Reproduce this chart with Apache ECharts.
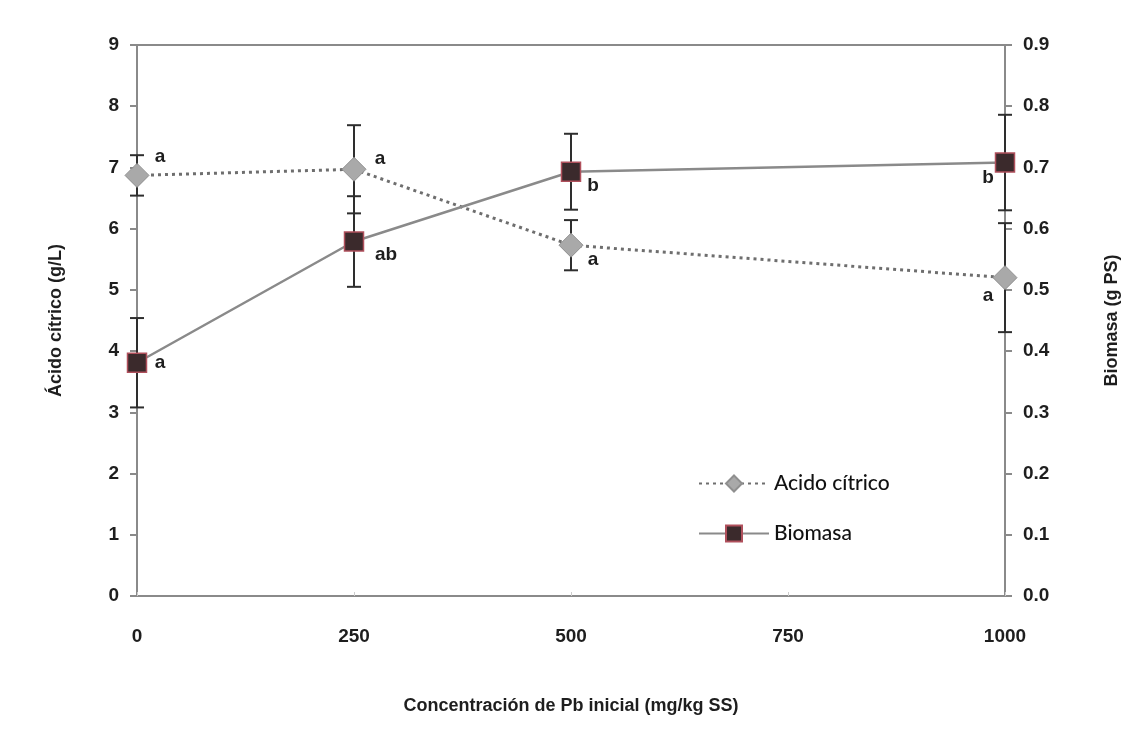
<!DOCTYPE html>
<html>
<head>
<meta charset="utf-8">
<script src="https://cdn.jsdelivr.net/npm/echarts@6/dist/echarts.min.js"></script>
<style>
  html, body { margin: 0; padding: 0; background: #fff; }
  #chart { width: 1132px; height: 742px; }
</style>
</head>
<body>
<div id="chart"></div>
<script>
// Pb initial concentration (mg/kg SS)
const pbConc = [0, 250, 500, 1000]
const xTicks = [0, 250, 500, 750, 1000]

const acidValues = [6.87, 6.97, 5.73, 5.20]
const acidErr = [0.33, 0.72, 0.41, 0.89]
const acidLetters = ['a', 'a', 'a', 'a']

const bioValues = [0.381, 0.579, 0.693, 0.708]
const bioErr = [0.073, 0.074, 0.062, 0.078]
const bioLetters = ['a', 'ab', 'b', 'b']

// where each letter sits relative to its point (px)
const acidLabelOffsets = [[23, -19], [26, -11], [22, 15], [-17, 18]]
const bioLabelOffsets = [[23, 0], [32, 13], [22, 14], [-17, 15]]

const axisColor = '#8a8a8a'
const textColor = '#1e1e1e'
const bold = { color: textColor, fontFamily: 'Liberation Sans, Arial', fontWeight: 'bold', fontSize: 19 }

function points(values, letters, offsets) {
  return pbConc.map((x, i) => ({
    value: [x, values[i]],
    label: {
      show: true,
      formatter: letters[i],
      position: 'inside',
      offset: offsets[i],
      ...bold,
      fontSize: 19
    }
  }))
}

function errorSeries(values, err, yAxisIndex) {
  return {
    type: 'custom',
    yAxisIndex,
    z: 1,
    silent: true,
    data: pbConc.map((x, i) => [x, values[i] - err[i], values[i] + err[i]]),
    renderItem(params, api) {
      const lo = api.coord([api.value(0), api.value(1)])
      const hi = api.coord([api.value(0), api.value(2)])
      const w = 7
      const style = { stroke: '#2e2e2e', lineWidth: 2 }
      return {
        type: 'group',
        children: [
          { type: 'line', shape: { x1: lo[0], y1: lo[1], x2: hi[0], y2: hi[1] }, style },
          { type: 'line', shape: { x1: lo[0] - w, y1: lo[1], x2: lo[0] + w, y2: lo[1] }, style },
          { type: 'line', shape: { x1: hi[0] - w, y1: hi[1], x2: hi[0] + w, y2: hi[1] }, style }
        ]
      }
    }
  }
}

const chart = echarts.init(document.getElementById('chart'))
chart.setOption({
  animation: false,
  grid: { left: 137, right: 127, top: 45, bottom: 146, show: true, borderColor: axisColor, borderWidth: 2 },
  legend: {
    orient: 'vertical',
    left: 693,
    top: 468,
    itemWidth: 70,
    itemHeight: 20,
    itemGap: 29,
    textStyle: { color: '#111', fontFamily: 'Lato, Open Sans', fontSize: 21, fontWeight: 500 },
    data: ['Acido cítrico', 'Biomasa']
  },
  xAxis: {
    type: 'value',
    min: 0,
    max: 1000,
    interval: 250,
    name: 'Concentración de Pb inicial (mg/kg SS)',
    nameLocation: 'middle',
    nameGap: 101,
    nameTextStyle: { ...bold, fontSize: 18 },
    axisLine: { lineStyle: { color: axisColor, width: 2 } },
    axisTick: { show: true, length: 4, inside: true, lineStyle: { color: '#ccc' } },
    axisLabel: { ...bold, margin: 31, formatter: v => String(v) },
    splitLine: { show: false }
  },
  yAxis: [
    {
      type: 'value',
      min: 0,
      max: 9,
      interval: 1,
      name: 'Ácido cítrico (g/L)',
      nameLocation: 'middle',
      nameGap: 72,
      nameTextStyle: { ...bold, fontSize: 18 },
      axisLine: { show: true, lineStyle: { color: axisColor, width: 2 } },
      axisTick: { show: true, length: 7, lineStyle: { color: axisColor, width: 2 } },
      axisLabel: { ...bold, margin: 18 },
      splitLine: { show: false }
    },
    {
      type: 'value',
      min: 0,
      max: 0.9,
      interval: 0.1,
      name: 'Biomasa (g PS)',
      nameLocation: 'middle',
      nameGap: 98,
      nameTextStyle: { ...bold, fontSize: 18 },
      axisLine: { show: true, lineStyle: { color: axisColor, width: 2 } },
      axisTick: { show: true, length: 7, lineStyle: { color: axisColor, width: 2 } },
      axisLabel: { ...bold, margin: 18, formatter: v => v.toFixed(1) },
      splitLine: { show: false }
    }
  ],
  series: [
    errorSeries(acidValues, acidErr, 0),
    errorSeries(bioValues, bioErr, 1),
    {
      name: 'Acido cítrico',
      type: 'line',
      yAxisIndex: 0,
      z: 3,
      data: points(acidValues, acidLetters, acidLabelOffsets),
      symbol: 'diamond',
      symbolSize: 24,
      showAllSymbol: true,
      lineStyle: { color: '#6e6e6e', width: 3, type: [3, 4] },
      itemStyle: { color: '#a9a9a9', borderColor: '#8f8f8f', borderWidth: 1 }
    },
    {
      name: 'Biomasa',
      type: 'line',
      yAxisIndex: 1,
      z: 3,
      data: points(bioValues, bioLetters, bioLabelOffsets),
      symbol: 'rect',
      symbolSize: 19,
      showAllSymbol: true,
      lineStyle: { color: '#8a8a8a', width: 2.5 },
      itemStyle: { color: '#3b2a2c', borderColor: '#b0505c', borderWidth: 1.5 }
    }
  ]
})
</script>
</body>
</html>
